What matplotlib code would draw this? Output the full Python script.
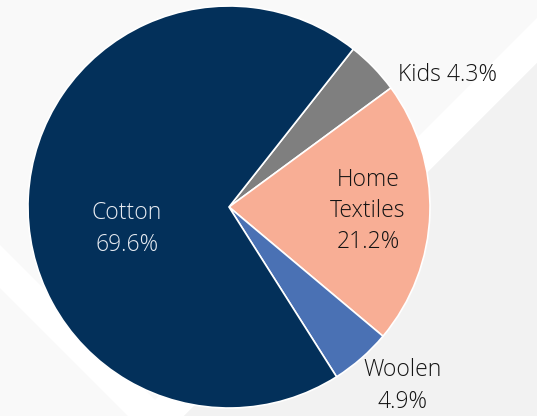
import matplotlib
matplotlib.use("Agg")
import matplotlib.pyplot as plt
from matplotlib.patches import Polygon

# Share of sales by segment
segments = ["Kids", "Home Textiles", "Woolen", "Cotton"]
shares = [4.3, 21.2, 4.9, 69.6]
colors = ["#7f7f7f", "#f8ae95", "#4a71b4", "#03305a"]

W, H = 537, 416
DPI = 100
fig = plt.figure(figsize=(W / DPI, H / DPI), dpi=DPI)
fig.patch.set_facecolor("#f9f9f9")

# Decorative background (pixel coordinates, y pointing down)
bg = fig.add_axes([0, 0, 1, 1])
bg.set_xlim(0, W)
bg.set_ylim(H, 0)
bg.axis("off")
bg.add_patch(Polygon([(W, 0), (W, H), (0, H), (0, 0)], closed=True,
                     facecolor="#f9f9f9", edgecolor="none"))
# white band running down-left from the top-right corner
bg.add_patch(Polygon([(W, 555 - W), (W, 600 - W), (600 - H, H), (555 - H, H)],
                     closed=True, facecolor="white", edgecolor="none"))
# grey field in the lower right
bg.add_patch(Polygon([(W, 600 - W), (W, H), (600 - H, H)], closed=True,
                     facecolor="#f2f2f2", edgecolor="none"))
# white band running down-right on the left side
bg.add_patch(Polygon([(0, 245), (H - 245, H), (H - 288, H), (0, 288)],
                     closed=True, facecolor="white", edgecolor="none"))

# Pie axes: centre at (229, 207) px, radius 201 px
cx, cy, r = 229, 207, 201
ax = fig.add_axes([0, 0, 1, 1])
ax.set_facecolor("none")
wedges, _ = ax.pie(shares, colors=colors, startangle=51.8, counterclock=False,
                   wedgeprops=dict(edgecolor="white", linewidth=1.2))
ax.set_aspect("auto")
ax.set_xlim(-cx / r, (W - cx) / r)
ax.set_ylim(-(H - cy) / r, cy / r)
ax.axis("off")

font = dict(family=["Open Sans", "DejaVu Sans"], fontsize=16.5, weight="light",
            ha="center", va="center", linespacing=1.4)
labels = {
    "Kids": ("Kids 4.3%", (1.085, 0.657), "#141414"),
    "Home Textiles": ("Home\nTextiles\n21.2%", (0.692, -0.02), "#141414"),
    "Woolen": ("Woolen\n4.9%", (0.861, -0.891), "#141414"),
    "Cotton": ("Cotton\n69.6%", (-0.507, -0.109), "#e8ecf2"),
}
for name, share in zip(segments, shares):
    text, (x, y), c = labels[name]
    ax.text(x, y, text, color=c, **font)

fig.savefig("out.png", dpi=DPI, facecolor=fig.get_facecolor())
